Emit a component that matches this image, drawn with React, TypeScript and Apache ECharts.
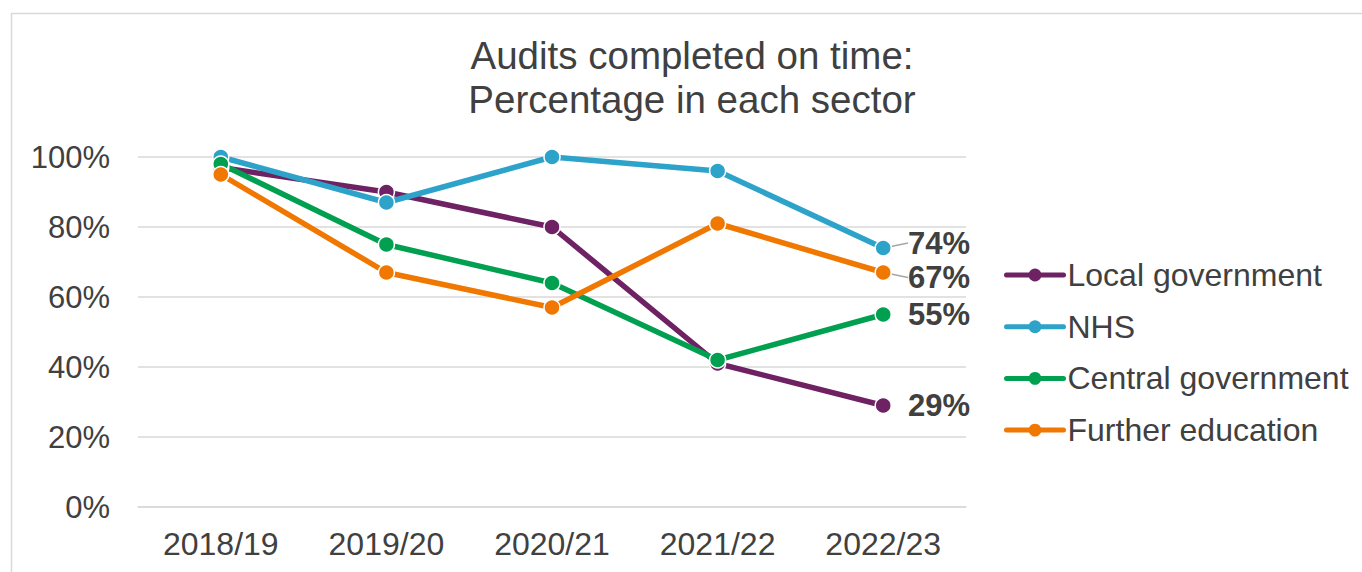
import React, { useEffect, useRef } from "react";
import * as echarts from "echarts";

const categories = ["2018/19", "2019/20", "2020/21", "2021/22", "2022/23"];
const localGov = [97, 90, 80, 41, 29];
const nhs = [100, 87, 100, 96, 74];
const centralGov = [98, 75, 64, 42, 55];
const furtherEd = [95, 67, 57, 81, 67];
const yTicks = [0, 20, 40, 60, 80, 100];

const FONT = "'Liberation Sans', Arial, sans-serif";
const TEXT = "#404040";

function makeSeries(name: string, values: number[], color: string, dy: number, guide: boolean) {
  const last = values.length - 1;
  return {
    name,
    type: "line",
    data: values.map((v, i) =>
      i === last
        ? {
            value: v,
            label: {
              show: true,
              position: "right",
              distance: 16,
              formatter: "{c}%",
              fontSize: 31,
              fontWeight: "bold",
              fontFamily: FONT,
              color: TEXT,
            },
          }
        : v
    ),
    symbol: "circle",
    symbolSize: 16,
    lineStyle: { color, width: 5.5, cap: "round", join: "round" },
    itemStyle: { color, borderColor: "#ffffff", borderWidth: 1.5 },
    labelLayout: dy !== 0 ? { dy } : undefined,
    labelLine: guide
      ? { show: true, lineStyle: { color: "#a6a6a6", width: 1.5 } }
      : { show: false },
    emphasis: { disabled: true },
  };
}

export default function App() {
  const ref = useRef<HTMLDivElement>(null);
  useEffect(() => {
    if (!ref.current) return;
    const chart = echarts.init(ref.current, undefined, { renderer: "svg" });
    chart.setOption({
      animation: false,
      backgroundColor: "#ffffff",
      textStyle: { fontFamily: FONT },
      graphic: [
        {
          type: "rect",
          shape: { x: 11.5, y: 13.5, width: 2000, height: 2000 },
          style: { fill: "none", stroke: "#d9d9d9", lineWidth: 1.5 },
          silent: true,
        },
        {
          type: "text",
          x: 692,
          y: 33,
          style: {
            text: "Audits completed on time:\nPercentage in each sector",
            fontSize: 38.5,
            lineHeight: 44,
            fontFamily: FONT,
            fill: TEXT,
            align: "center",
            verticalAlign: "top",
          },
          silent: true,
        },
      ],
      grid: { left: 138, right: 396, top: 157, bottom: 65 },
      legend: {
        orient: "vertical",
        left: 1004,
        top: 257,
        padding: 0,
        itemWidth: 57,
        itemHeight: 16,
        itemGap: 15.7,
        lineStyle: { width: 5, cap: "round" },
        itemStyle: { borderWidth: 0 },
        textStyle: { fontSize: 32, lineHeight: 36, color: TEXT, fontFamily: FONT, padding: [0, 0, 0, -1] },
        data: ["Local government", "NHS", "Central government", "Further education"],
      },
      xAxis: {
        type: "category",
        data: categories,
        boundaryGap: true,
        axisLine: { show: true, lineStyle: { color: "#d9d9d9", width: 1.5 } },
        axisTick: { show: false },
        axisLabel: { fontSize: 32, color: TEXT, margin: 21, fontFamily: FONT },
      },
      yAxis: {
        type: "value",
        min: yTicks[0],
        max: yTicks[yTicks.length - 1],
        interval: 20,
        axisLine: { show: false },
        axisTick: { show: false },
        splitLine: { lineStyle: { color: "#d9d9d9", width: 1.5 } },
        axisLabel: { fontSize: 31, color: TEXT, margin: 28, formatter: "{value}%", fontFamily: FONT },
      },
      series: [
        makeSeries("Local government", localGov, "#6F2263", 0, false),
        makeSeries("NHS", nhs, "#2EA3C9", -5, true),
        makeSeries("Central government", centralGov, "#00A050", 0, false),
        makeSeries("Further education", furtherEd, "#F07800", 5, true),
      ],
    });
    return () => chart.dispose();
  }, []);
  return (
    <div
      ref={ref}
      style={{ position: "absolute", left: 0, top: 0, width: 1362, height: 572, background: "#fff" }}
    />
  );
}
